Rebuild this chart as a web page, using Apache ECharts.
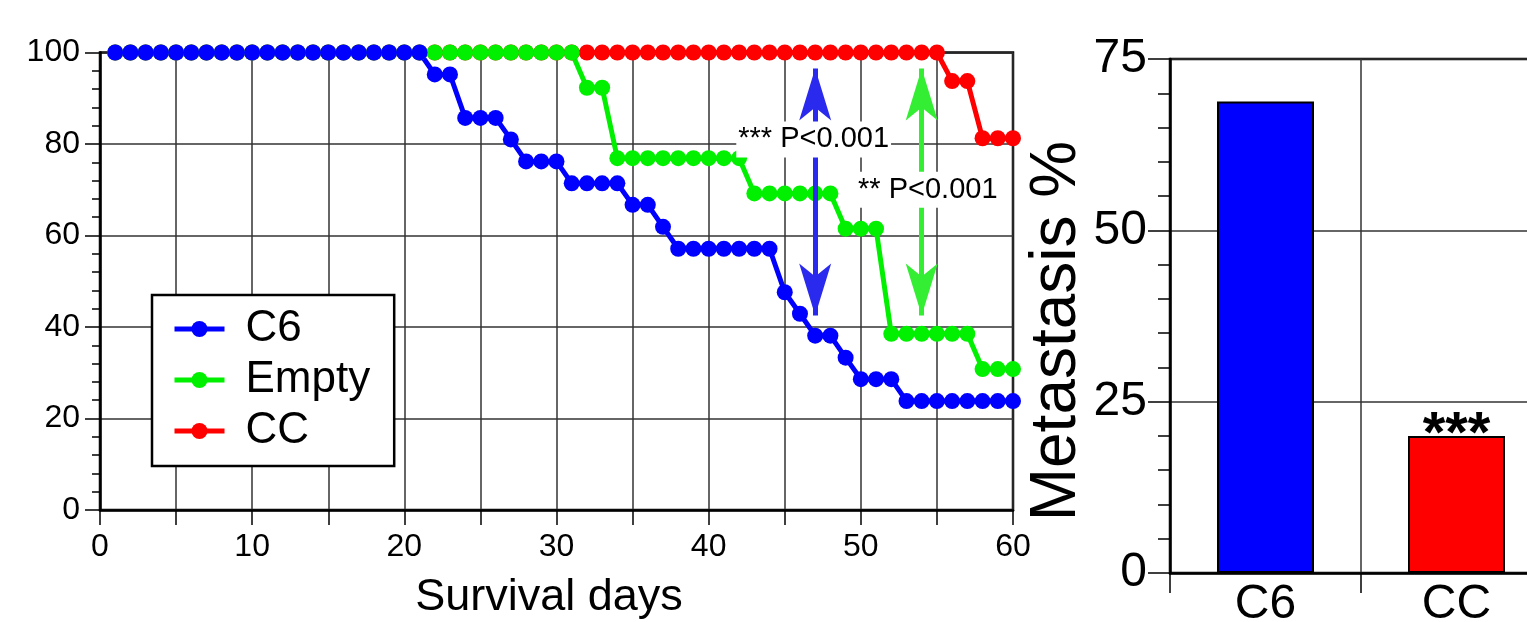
<!DOCTYPE html>
<html><head><meta charset="utf-8">
<script src="https://cdn.jsdelivr.net/npm/echarts@6/dist/echarts.min.js"></script>
<style>html,body{margin:0;padding:0;background:#fff}#c{width:1527px;height:622px}</style>
</head><body><div id="c"></div>
<script>
// ---------- data ----------
const seriesNames = ['C6', 'Empty', 'CC'];
const days = [1,2,3,4,5,6,7,8,9,10,11,12,13,14,15,16,17,18,19,20,
  21,22,23,24,25,26,27,28,29,30,31,32,33,34,35,36,37,38,39,40,
  41,42,43,44,45,46,47,48,49,50,51,52,53,54,55,56,57,58,59,60];
const c6Survival = [100,100,100,100,100,100,100,100,100,100,100,100,100,100,100,100,100,100,100,100,
  100,95.2,95.2,85.7,85.7,85.7,81.0,76.2,76.2,76.2,71.4,71.4,71.4,71.4,66.7,66.7,61.9,57.1,57.1,57.1,
  57.1,57.1,57.1,57.1,47.6,42.9,38.1,38.1,33.3,28.6,28.6,28.6,23.8,23.8,23.8,23.8,23.8,23.8,23.8,23.8];
const emptySurvival = [100,100,100,100,100,100,100,100,100,100,100,100,100,100,100,100,100,100,100,100,
  100,100,100,100,100,100,100,100,100,100,100,92.3,92.3,76.9,76.9,76.9,76.9,76.9,76.9,76.9,
  76.9,76.9,69.2,69.2,69.2,69.2,69.2,69.2,61.5,61.5,61.5,38.5,38.5,38.5,38.5,38.5,38.5,30.8,30.8,30.8];
const ccSurvival = [100,100,100,100,100,100,100,100,100,100,100,100,100,100,100,100,100,100,100,100,
  100,100,100,100,100,100,100,100,100,100,100,100,100,100,100,100,100,100,100,100,
  100,100,100,100,100,100,100,100,100,100,100,100,100,100,100,93.75,93.75,81.25,81.25,81.25];
const xTickLabels = ['0','10','20','30','40','50','60'];
const barCategories = ['C6', 'CC'];
const metastasisPct = [68.8, 20.0];
const barSignificance = ['', '***'];
const pLabels = ['*** P<0.001', '** P<0.001'];

// ---------- chart ----------
const FONT = '"Liberation Sans", Arial, Helvetica, sans-serif';
const COLORS = {C6: '#0000ff', Empty: '#00f000', CC: '#ff0000'};
const pts = arr => arr.map((v, i) => [days[i], v]);

const lineSeries = (name, arr, extra) => Object.assign({
  name: name, type: 'line', xAxisIndex: 0, yAxisIndex: 0,
  data: pts(arr), symbol: 'circle', symbolSize: 16, showSymbol: true,
  itemStyle: {color: COLORS[name]},
  lineStyle: {color: COLORS[name], width: 5},
  emphasis: {disabled: true}
}, extra || {});

const arrowMark = (color, x) => ({
  silent: true, symbol: ['arrow', 'arrow'], symbolSize: [24, 52],
  label: {show: false},
  lineStyle: {color: color, width: 5, type: 'solid', opacity: 1},
  emphasis: {disabled: true},
  data: [[{coord: [x, 96.5]}, {coord: [x, 42.5]}]]
});

const chart = echarts.init(document.getElementById('c'), null, {renderer: 'canvas'});
chart.setOption({
  animation: false,
  backgroundColor: '#fff',
  textStyle: {fontFamily: FONT},
  grid: [
    {left: 100, top: 52.5, right: 514, bottom: 112, show: true, borderColor: '#000', borderWidth: 2.5,
     backgroundColor: 'transparent', outerBoundsMode: 'none', containLabel: false},
    {left: 1170, top: 59, width: 382, bottom: 49, show: true, borderColor: '#000', borderWidth: 2.5,
     backgroundColor: 'transparent', outerBoundsMode: 'none', containLabel: false}
  ],
  legend: {
    data: seriesNames, orient: 'vertical', left: 152, top: 295,
    backgroundColor: '#fff', borderColor: '#000', borderWidth: 2.5,
    padding: [12, 24, 13, 20], itemWidth: 50, itemHeight: 20, itemGap: 7,
    selectedMode: false,
    lineStyle: {width: 5},
    textStyle: {fontSize: 44, color: '#000', fontFamily: FONT, padding: [0, 0, 0, 16]}
  },
  xAxis: [
    {type: 'value', gridIndex: 0, min: 0, max: 60, interval: 5,
     name: 'Survival days', nameLocation: 'middle', nameGap: 65,
     nameTextStyle: {fontSize: 45, color: '#000', fontFamily: FONT, padding: [0, 15, 0, 0]},
     axisLine: {show: true, onZero: false, lineStyle: {color: '#000', width: 2.5}},
     axisTick: {show: true, length: 15, lineStyle: {color: '#000', width: 1.5}},
     axisLabel: {fontSize: 32, color: '#000', margin: 21, fontFamily: FONT,
       formatter: v => (xTickLabels.indexOf(String(v)) >= 0 ? String(v) : '')},
     splitLine: {show: true, lineStyle: {color: '#333', width: 1.5}}},
    {type: 'category', gridIndex: 1, data: barCategories, boundaryGap: true,
     axisLine: {show: true, onZero: false, lineStyle: {color: '#000', width: 2.5}},
     axisTick: {show: true, length: 20, alignWithLabel: false, lineStyle: {color: '#000', width: 1.5}},
     axisLabel: {fontSize: 48, color: '#000', margin: 8, fontFamily: FONT},
     splitLine: {show: true, lineStyle: {color: '#333', width: 1.5}}}
  ],
  yAxis: [
    {type: 'value', gridIndex: 0, min: 0, max: 100, interval: 20,
     axisLine: {show: true, onZero: false, lineStyle: {color: '#000', width: 2.5}},
     axisTick: {show: true, length: 15, lineStyle: {color: '#000', width: 1.5}},
     minorTick: {show: true, splitNumber: 5, length: 8, lineStyle: {color: '#000', width: 1.5}},
     axisLabel: {fontSize: 32, color: '#000', margin: 20, fontFamily: FONT},
     splitLine: {show: true, lineStyle: {color: '#333', width: 1.5}}},
    {type: 'value', gridIndex: 1, min: 0, max: 75, interval: 25,
     name: 'Metastasis %', nameLocation: 'middle', nameGap: 75, nameRotate: 90,
     nameTextStyle: {fontSize: 64, color: '#000', fontFamily: FONT, padding: [0, 30, 0, 0]},
     axisLine: {show: true, onZero: false, lineStyle: {color: '#000', width: 2.5}},
     axisTick: {show: true, length: 22, lineStyle: {color: '#000', width: 1.5}},
     minorTick: {show: true, splitNumber: 5, length: 12, lineStyle: {color: '#000', width: 1.5}},
     axisLabel: {fontSize: 48, color: '#000', margin: 23, fontFamily: FONT},
     splitLine: {show: true, lineStyle: {color: '#333', width: 1.5}}}
  ],
  series: [
    lineSeries('CC', ccSurvival),
    lineSeries('Empty', emptySurvival, {markLine: arrowMark('#33ee33', 54)}),
    lineSeries('C6', c6Survival, {
      markLine: arrowMark('#2a2aee', 47),
      markPoint: {
        silent: true, z: 10, symbol: 'rect', symbolSize: 1,
        itemStyle: {color: 'rgba(0,0,0,0)'},
        label: {show: true, position: 'inside', color: '#000', fontSize: 29, fontFamily: FONT,
          backgroundColor: '#fff', padding: [4, 2, 3, 2], formatter: p => p.name},
        emphasis: {disabled: true},
        data: [{name: pLabels[0], coord: [46.9, 81]}, {name: pLabels[1], coord: [54.4, 70]}]
      }
    }),
    {type: 'bar', xAxisIndex: 1, yAxisIndex: 1, barWidth: 97,
     data: metastasisPct.map((v, i) => ({value: v, itemStyle: {color: COLORS[barCategories[i]]}})),
     itemStyle: {borderColor: '#000', borderWidth: 2},
     emphasis: {disabled: true},
     label: {show: true, position: 'top', fontSize: 58, fontWeight: 'bold', color: '#000', fontFamily: FONT,
       offset: [0, 34], formatter: p => barSignificance[p.dataIndex]}}
  ]
});
</script></body></html>
